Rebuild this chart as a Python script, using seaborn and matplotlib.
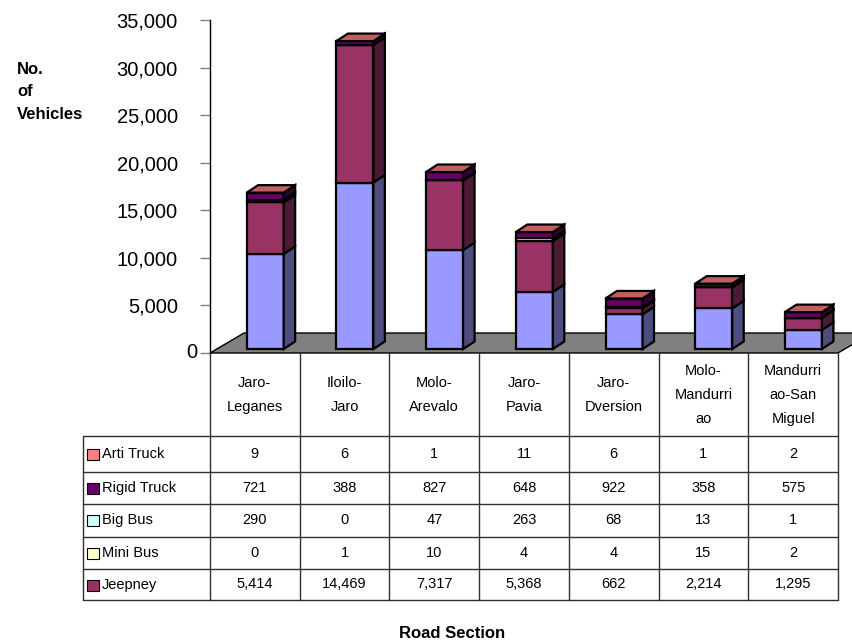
import matplotlib
matplotlib.use("Agg")
import matplotlib.pyplot as plt
from matplotlib.patches import Polygon, Rectangle
from matplotlib.lines import Line2D
import pandas as pd
import seaborn as sns

# ---- data -------------------------------------------------------------
sections = ["Jaro-\nLeganes", "Iloilo-\nJaro", "Molo-\nArevalo", "Jaro-\nPavia",
            "Jaro-\nDversion", "Molo-\nMandurri\nao", "Mandurri\nao-San\nMiguel"]
private_vehicles = [10000, 17500, 10400, 6000, 3650, 4270, 2000]
jeepney = [5414, 14469, 7317, 5368, 662, 2214, 1295]
mini_bus = [0, 1, 10, 4, 4, 15, 2]
big_bus = [290, 0, 47, 263, 68, 13, 1]
rigid_truck = [721, 388, 827, 648, 922, 358, 575]
arti_truck = [9, 6, 1, 11, 6, 1, 2]
y_ticks = [0, 5000, 10000, 15000, 20000, 25000, 30000, 35000]

# stacking order, bottom to top
layers = [
    ("Private", private_vehicles, "#9999FF"),
    ("Jeepney", jeepney, "#993366"),
    ("Mini Bus", mini_bus, "#FFFFCC"),
    ("Big Bus", big_bus, "#CCFFFF"),
    ("Rigid Truck", rigid_truck, "#660066"),
    ("Arti Truck", arti_truck, "#FF8080"),
]
# rows of the data table, top to bottom
table_rows = [
    ("Arti Truck", arti_truck, "#FF8080"),
    ("Rigid Truck", rigid_truck, "#660066"),
    ("Big Bus", big_bus, "#CCFFFF"),
    ("Mini Bus", mini_bus, "#FFFFCC"),
    ("Jeepney", jeepney, "#993366"),
]

# ---- styling ----------------------------------------------------------
sns.set_theme(style="white")
plt.rcParams["font.family"] = ["Liberation Sans", "DejaVu Sans"]
plt.rcParams["text.color"] = "black"
plt.rcParams["ytick.color"] = "black"
plt.rcParams["ytick.labelcolor"] = "black"

W, H = 852, 644
fig = plt.figure(figsize=(W / 100, H / 100), dpi=100)
fig.patch.set_facecolor("white")


def fp(x, y):
    """pixel position (from top-left) -> figure fraction"""
    return x / W, 1 - y / H


ax = fig.add_axes([210 / W, 1 - 353 / H, 628 / W, 333 / H])
ax.set_facecolor("none")

n = len(sections)
px_x = 1.0 / (628 / n)          # category units per pixel
px_y = 35000 / 333              # value units per pixel

bar_w = 37 * px_x
bar_shift = 10.3 * px_x
depth_dx, depth_dy = 11.5 * px_x, 7.5 * px_y
lift = 4 * px_y
floor_dx, floor_dy = 34 * px_x, 20 * px_y


def shade(hex_color, f):
    r, g, b = matplotlib.colors.to_rgb(hex_color)
    return (r * f, g * f, b * f)


# floor
ax.add_patch(Polygon([(-0.5, 0), (n - 0.5, 0), (n - 0.5 + floor_dx, floor_dy),
                      (-0.5 + floor_dx, floor_dy)], closed=True,
                     facecolor="#808080", edgecolor="black", lw=1.0,
                     clip_on=False, zorder=1))

# front faces of the stacked columns
positions = [i + bar_shift for i in range(n)]
base = [lift] * n
EDGE = 1.6
for name, vals, col in layers:
    df = pd.DataFrame({"pos": positions, "value": vals})
    sns.barplot(data=df, x="pos", y="value", native_scale=True, width=bar_w,
                color=col, saturation=1, edgecolor="black", linewidth=EDGE,
                bottom=base, errorbar=None, ax=ax, zorder=3, clip_on=False)
    # side face for each segment
    for i in range(n):
        xr = positions[i] + bar_w / 2
        b, t = base[i], base[i] + vals[i]
        ax.add_patch(Polygon([(xr, b), (xr + depth_dx, b + depth_dy),
                              (xr + depth_dx, t + depth_dy), (xr, t)], closed=True,
                             facecolor=shade(col, 0.5), edgecolor="black",
                             lw=EDGE, zorder=3, clip_on=False))
    base = [base[i] + vals[i] for i in range(n)]

# top faces
top_col = shade(layers[-1][2], 0.75)
for i in range(n):
    xl, xr = positions[i] - bar_w / 2, positions[i] + bar_w / 2
    T = base[i]
    ax.add_patch(Polygon([(xl, T), (xr, T), (xr + depth_dx, T + depth_dy),
                          (xl + depth_dx, T + depth_dy)], closed=True,
                         facecolor=top_col, edgecolor="black", lw=EDGE,
                         zorder=4, clip_on=False))

ax.set_xlim(-0.5, n - 0.5)
ax.set_ylim(0, 35000)
ax.set_xticks([])
ax.set_xlabel("")
ax.set_ylabel("")
ax.set_yticks(y_ticks)
# the zero label sits close to its tick, the others further out
ax.set_yticklabels(["" if v == 0 else f"{v:,}" for v in y_ticks])
ax.tick_params(axis="y", left=True, length=7.2, width=1, color="#808080",
               pad=16, labelsize=14.5, labelcolor="black")
ax.text(-0.5 - 13 * px_x, 0, f"{y_ticks[0]:,}", ha="right", va="center",
        fontsize=14.5, color="black")
for s in ["top", "right", "bottom"]:
    ax.spines[s].set_visible(False)
ax.spines["left"].set_color("black")
ax.spines["left"].set_linewidth(1)

# axis titles
fig.text(*fp(17, 62), "No.\nof\nVehicles", ha="left", va="top",
         fontsize=12, fontweight="bold", linespacing=1.62)
fig.text(*fp(452, 633), "Road Section", ha="center", va="center",
         fontsize=12, fontweight="bold")

# ---- data table -------------------------------------------------------
col_edges = [210 + k * 628 / n for k in range(n + 1)]
row_edges = [436, 471.5, 504, 536.5, 569, 600]
line_kw = dict(color="#303030", lw=1.0, transform=fig.transFigure)

for x in col_edges:
    x0, y0 = fp(x, 353)
    x1, y1 = fp(x, row_edges[-1])
    fig.add_artist(Line2D([x0, x1], [y0, y1], **line_kw))
x0, y0 = fp(83, row_edges[0])
x1, y1 = fp(83, row_edges[-1])
fig.add_artist(Line2D([x0, x1], [y0, y1], **line_kw))
for y in row_edges:
    x0, y0 = fp(83, y)
    x1, y1 = fp(col_edges[-1], y)
    fig.add_artist(Line2D([x0, x1], [y0, y1], **line_kw))

# column headers
for k, label in enumerate(sections):
    cx = (col_edges[k] + col_edges[k + 1]) / 2
    fig.text(*fp(cx, 395), label, ha="center", va="center", fontsize=10.5,
             linespacing=1.9)

# row labels with colour keys, and cell values
for r, (name, vals, col) in enumerate(table_rows):
    cy = (row_edges[r] + row_edges[r + 1]) / 2
    kx, ky = fp(87, cy + 6)
    fig.add_artist(Rectangle((kx, ky), 12 / W, 11 / H, transform=fig.transFigure,
                             facecolor=col, edgecolor="black", lw=0.8))
    fig.text(*fp(102, cy), name, ha="left", va="center", fontsize=10.5)
    for k, v in enumerate(vals):
        cx = (col_edges[k] + col_edges[k + 1]) / 2
        fig.text(*fp(cx, cy), f"{v:,}", ha="center", va="center", fontsize=10.5)

fig.savefig("out.png", dpi=100, facecolor="white")
